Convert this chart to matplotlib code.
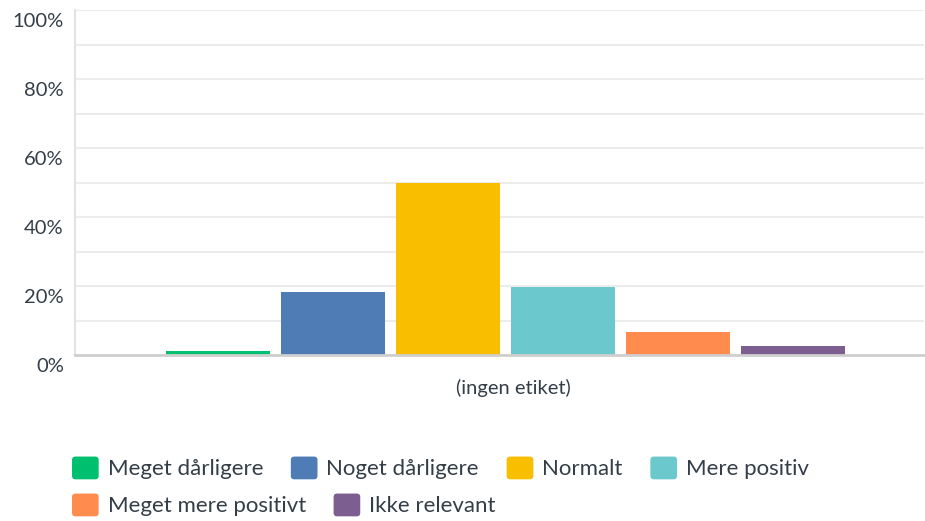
import matplotlib.pyplot as plt
import numpy as np
from matplotlib.patches import FancyBboxPatch
from matplotlib.legend_handler import HandlerPatch
from matplotlib.transforms import ScaledTranslation

categories = ["Meget dårligere", "Noget dårligere", "Normalt", "Mere positiv",
              "Meget mere positivt", "Ikke relevant"]
values = [1.2, 18.3, 49.9, 19.7, 6.8, 2.6]
colors = ["#00bf6f", "#507cb6", "#f9be00", "#6bc8cd", "#ff8b4f", "#7d5e90"]
yticks = [0, 20, 40, 60, 80, 100]
group_label = "(ingen etiket)"

text_color = "#333e48"
plt.rcParams['font.family'] = ['Lato', 'DejaVu Sans']

W, H = 925, 521
fig = plt.figure(figsize=(W / 100, H / 100), dpi=100)
ax = fig.add_axes([75 / W, 1 - 355 / H, 849 / W, 345 / H])

pitch = 115.0
offsets = np.arange(len(values)) - (len(values) - 1) / 2
bars = []
for off, v, c, name in zip(offsets, values, colors, categories):
    b = ax.bar(off, v, width=104 / pitch, color=c, label=name, zorder=3)
    bars.append(b.patches[0])

ax.set_xlim((75 - 505.5) / pitch, (924 - 505.5) / pitch)
ax.set_ylim(0, 100)
ax.set_xticks([])
ax.set_yticks(yticks)
ax.set_yticklabels([f"{t}%" for t in yticks])
ax.set_yticks(np.arange(0, 101, 10), minor=True)
ax.tick_params(axis='y', which='both', length=0, pad=8, labelsize=14.5,
               labelcolor=text_color)
ax.grid(axis='y', which='both', color='#ececec', linewidth=1.5, zorder=0)
for lab in ax.get_yticklabels():
    lab.set_transform(lab.get_transform() + ScaledTranslation(0, -0.1, fig.dpi_scale_trans))

for s in ['top', 'right']:
    ax.spines[s].set_visible(False)
ax.spines['left'].set_color('#e3e3e3')
ax.spines['left'].set_linewidth(1.5)
ax.spines['bottom'].set_color('#cfcfcf')
ax.spines['bottom'].set_linewidth(2)
ax.spines['bottom'].set_zorder(4)

fig.text(513 / W, 1 - 388 / H, group_label, ha='center', va='center',
         fontsize=14.5, color=text_color)


class RoundBox(HandlerPatch):
    def create_artists(self, legend, orig_handle, xdescent, ydescent,
                       width, height, fontsize, trans):
        p = FancyBboxPatch((-xdescent, -ydescent), width, height,
                           boxstyle="round,pad=0,rounding_size=2.5",
                           facecolor=orig_handle.get_facecolor(),
                           edgecolor='none', transform=trans)
        return [p]


legend_kw = dict(frameon=False, fontsize=16, labelcolor=text_color,
                 handlelength=1.2, handleheight=1.2, handletextpad=0.4,
                 columnspacing=1.25, borderaxespad=0, borderpad=0,
                 handler_map={plt.Rectangle: RoundBox()},
                 loc='center left')
leg1 = fig.legend(bars[:4], categories[:4], ncol=4,
                  bbox_to_anchor=(72 / W, 1 - 468 / H), **legend_kw)
leg2 = fig.legend(bars[4:], categories[4:], ncol=2,
                  bbox_to_anchor=(72 / W, 1 - 505 / H), **legend_kw)

fig.savefig("out.png", dpi=100)
